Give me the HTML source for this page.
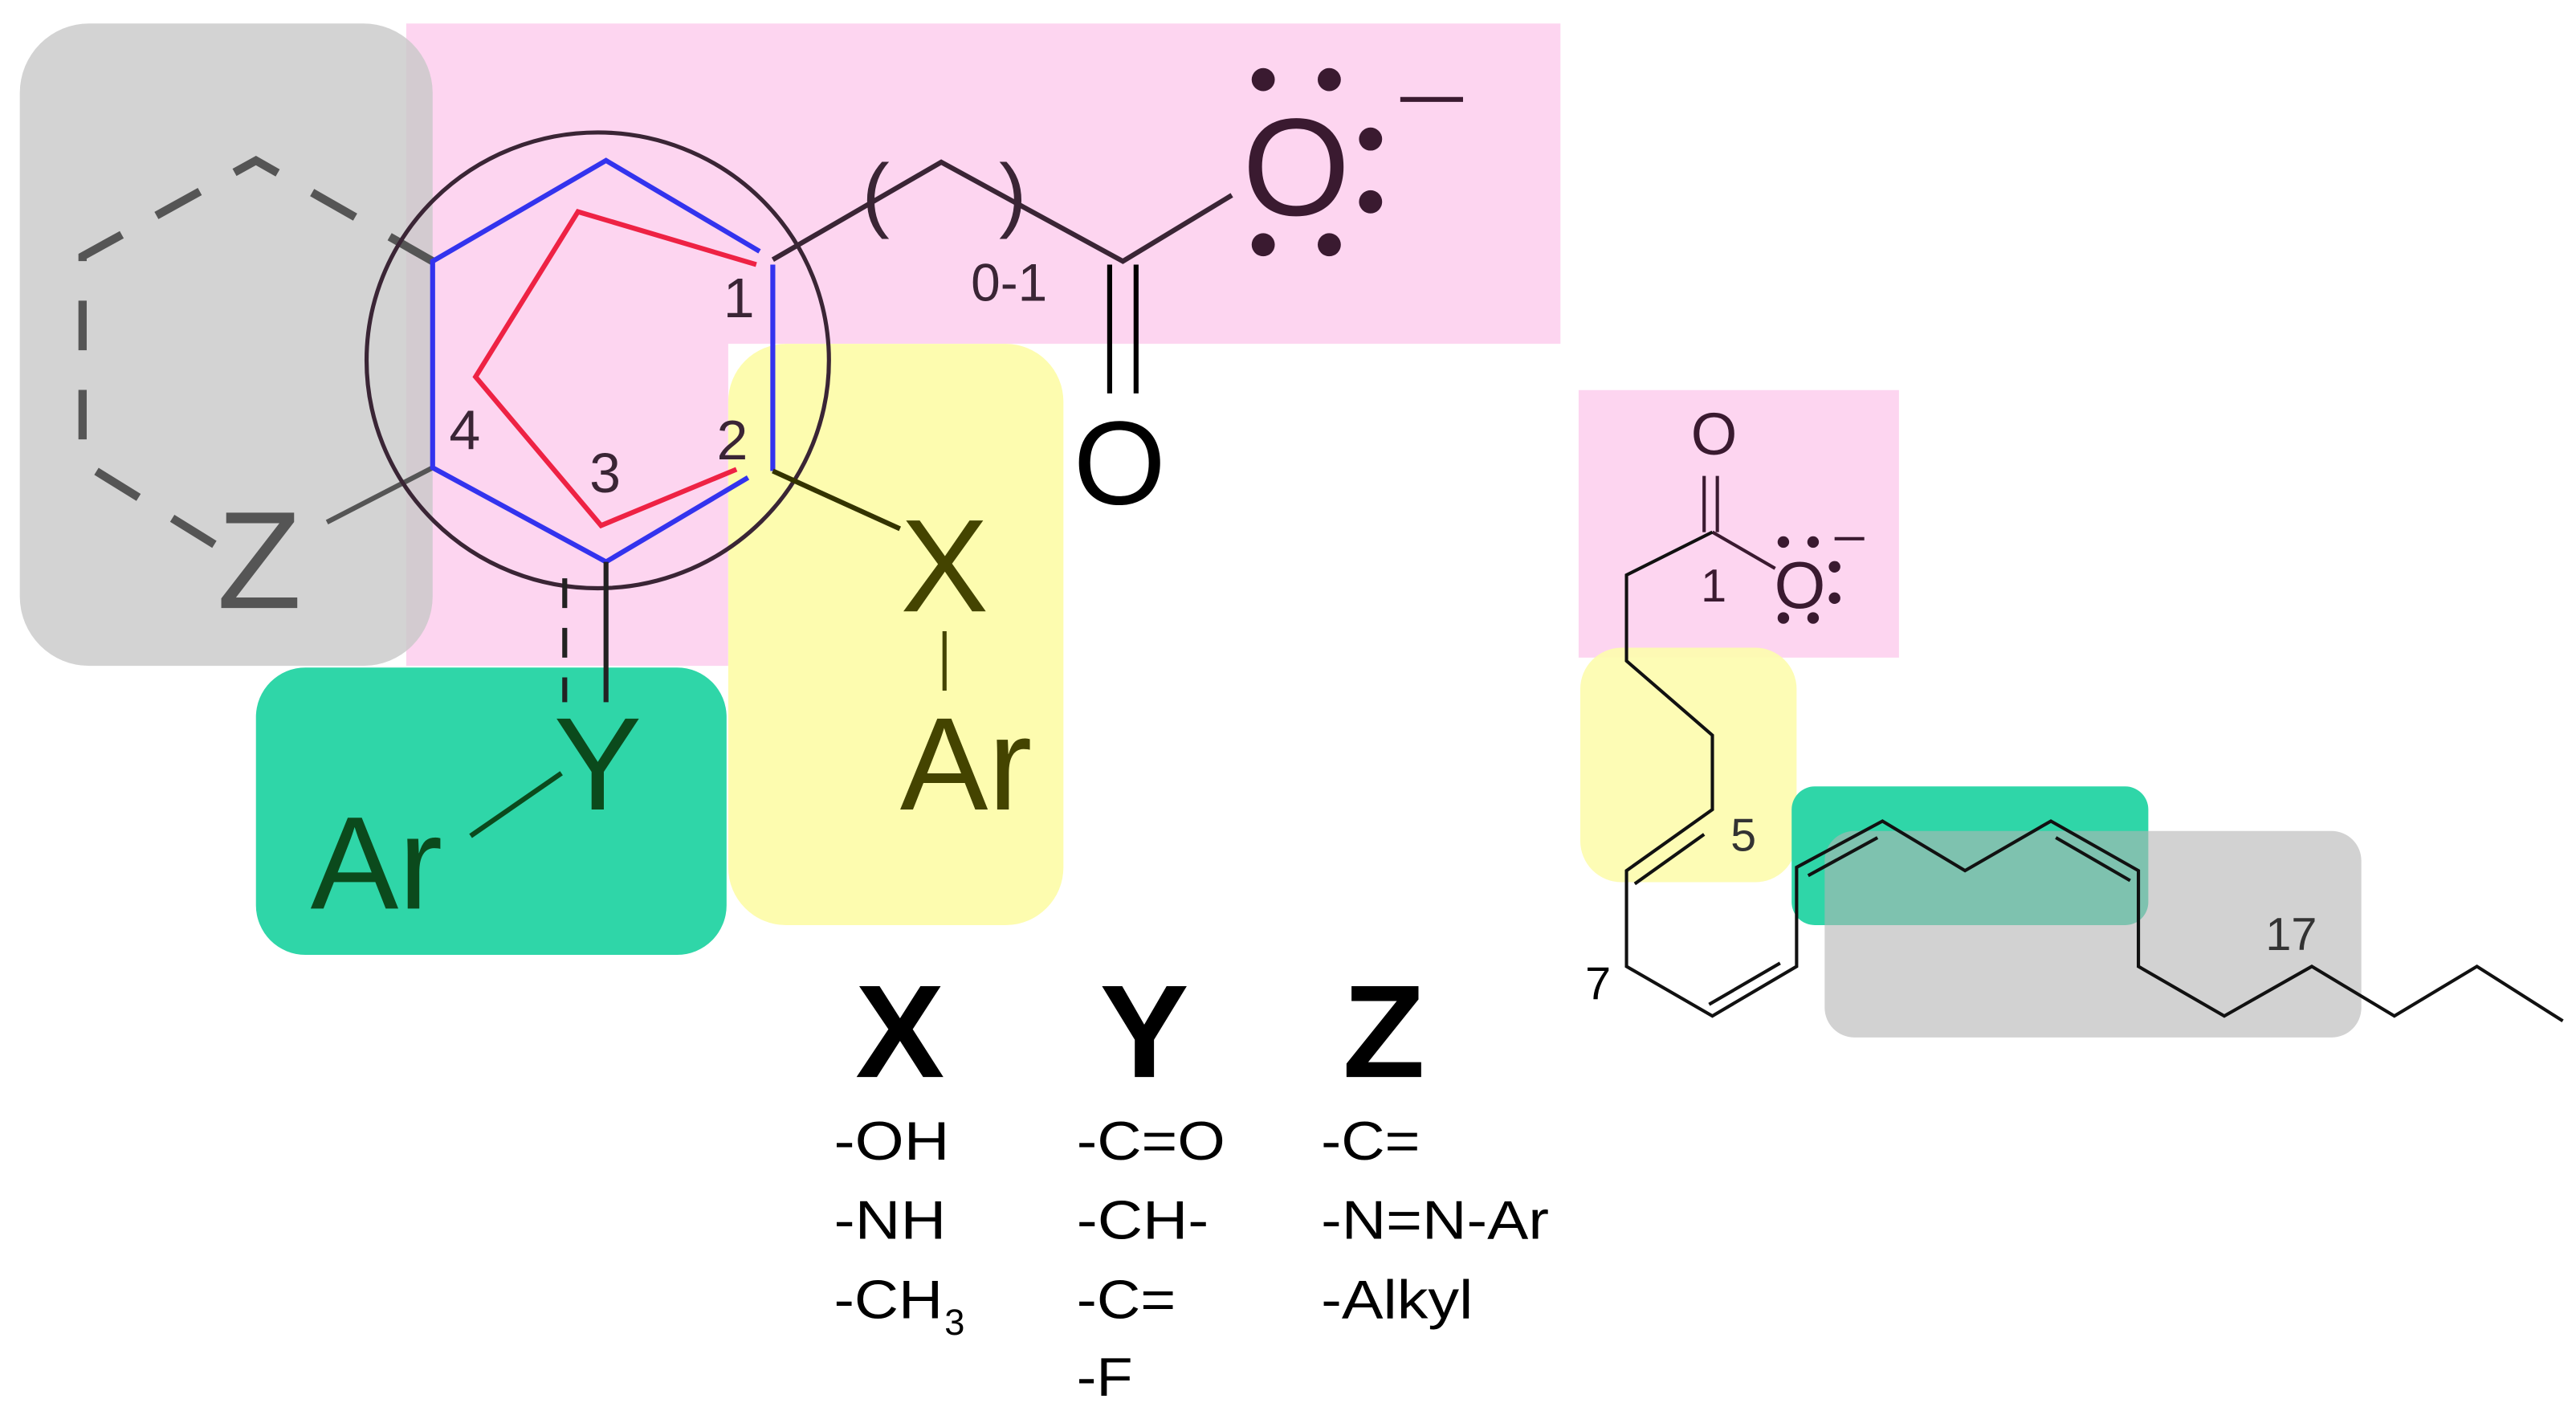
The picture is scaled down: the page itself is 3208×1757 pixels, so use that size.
<!DOCTYPE html>
<html><head><meta charset="utf-8"><style>
html,body{margin:0;padding:0;background:#fff;}
svg{display:block;}
text{font-family:"Liberation Sans",sans-serif;}
</style></head><body>
<svg width="3208" height="1757" viewBox="0 0 1560 854" xmlns="http://www.w3.org/2000/svg">
<!-- highlight boxes -->
<path d="M246 14 H945 V208 H441 V403 H246 Z" fill="#fdd5f0"/>
<rect x="441" y="208" width="203" height="352" rx="35" fill="#fdfcaf"/>
<rect x="155" y="404" width="285" height="174" rx="30" fill="#2fd6a8"/>
<rect x="12" y="14" width="250" height="389" rx="42" fill="#c8c8c8" fill-opacity="0.8"/>

<rect x="956" y="236" width="194" height="162" fill="#fdd5f0"/>
<rect x="957" y="392" width="131" height="142" rx="25" fill="#fdfcaf" fill-opacity="0.92"/>
<rect x="1085" y="476" width="216" height="84" rx="14" fill="#2fd6a8"/>
<rect x="1105" y="503" width="325" height="125" rx="18" fill="#b4b4b4" fill-opacity="0.6"/>

<!-- dashed hexagon -->
<path d="M262 158 L155 97 L50 155 L50 280 L155 345" fill="none" stroke="#555" stroke-width="5" stroke-dasharray="30 24"/>
<line x1="198" y1="316" x2="262" y2="283" stroke="#555" stroke-width="3"/>
<text x="157" y="368" font-size="84" fill="#555" text-anchor="middle">Z</text>

<!-- circle -->
<ellipse cx="362" cy="218" rx="140" ry="138" fill="none" stroke="#3a2535" stroke-width="2.5"/>

<!-- blue hexagon -->
<path d="M460 152 L367 97 L262 158 L262 283 L367 340 L453 289" fill="none" stroke="#3333ee" stroke-width="3"/>
<line x1="468" y1="160" x2="468" y2="285" stroke="#3333ee" stroke-width="3"/>
<!-- red pentagon -->
<path d="M458 160 L350 128 L288 228 L364 318 L446 284" fill="none" stroke="#ee2244" stroke-width="3"/>

<!-- labels ring -->
<g font-size="34" fill="#3a2535">
<text x="438" y="192">1</text>
<text x="434" y="278">2</text>
<text x="357" y="298">3</text>
<text x="272" y="272">4</text>
</g>

<!-- chain to carboxylate -->
<path d="M468 157 L570 98 L680 158 L746 118" fill="none" stroke="#3a2535" stroke-width="3"/>
<text x="522" y="134" font-size="50" fill="#3a2535">(</text>
<text x="605" y="134" font-size="50" fill="#3a2535">)</text>
<text x="588" y="182" font-size="32" fill="#3a2535">0-1</text>
<line x1="672" y1="160" x2="672" y2="238" stroke="#000" stroke-width="3"/>
<line x1="688" y1="160" x2="688" y2="238" stroke="#000" stroke-width="3"/>
<text x="678" y="305" font-size="72" fill="#000" text-anchor="middle">O</text>
<text x="785" y="130" font-size="84" fill="#3a1a30" text-anchor="middle">O</text>
<g fill="#3a1a30">
<circle cx="765" cy="48" r="7"/><circle cx="805" cy="48" r="7"/>
<circle cx="830" cy="84" r="7"/><circle cx="830" cy="122" r="7"/>
<circle cx="765" cy="148" r="7"/><circle cx="805" cy="148" r="7"/>
</g>
<line x1="848" y1="60" x2="886" y2="60" stroke="#3a1a30" stroke-width="3"/>

<!-- X -->
<line x1="468" y1="285" x2="545" y2="320" stroke="#333300" stroke-width="3"/>
<text x="572" y="370" font-size="80" fill="#444400" text-anchor="middle">X</text>
<line x1="572" y1="382" x2="572" y2="418" stroke="#444400" stroke-width="2.5"/>
<text x="585" y="490" font-size="80" fill="#444400" text-anchor="middle">Ar</text>

<!-- Y -->
<line x1="367" y1="340" x2="367" y2="425" stroke="#222" stroke-width="3"/>
<line x1="342" y1="350" x2="342" y2="425" stroke="#222" stroke-width="3" stroke-dasharray="18 12"/>
<text x="362" y="490" font-size="80" fill="#0b4a1c" text-anchor="middle">Y</text>
<line x1="285" y1="506" x2="340" y2="468" stroke="#0b4a1c" stroke-width="3"/>
<text x="228" y="550" font-size="80" fill="#0b4a1c" text-anchor="middle">Ar</text>

<!-- table -->
<g font-weight="bold" font-size="80" fill="#000" text-anchor="middle">
<text x="545" y="652" textLength="54" lengthAdjust="spacingAndGlyphs">X</text>
<text x="693" y="652" textLength="54" lengthAdjust="spacingAndGlyphs">Y</text>
<text x="838" y="652" textLength="50" lengthAdjust="spacingAndGlyphs">Z</text>
</g>
<g font-size="33" fill="#000">
<text x="505" y="702" textLength="70" lengthAdjust="spacingAndGlyphs">-OH</text>
<text x="505" y="750" textLength="68" lengthAdjust="spacingAndGlyphs">-NH</text>
<text x="505" y="798" textLength="66" lengthAdjust="spacingAndGlyphs">-CH</text>
<text x="572" y="808" font-size="22">3</text>
<text x="652" y="702" textLength="90" lengthAdjust="spacingAndGlyphs">-C=O</text>
<text x="652" y="750" textLength="80" lengthAdjust="spacingAndGlyphs">-CH-</text>
<text x="652" y="798" textLength="60" lengthAdjust="spacingAndGlyphs">-C=</text>
<text x="652" y="845" textLength="34" lengthAdjust="spacingAndGlyphs">-F</text>
<text x="800" y="702" textLength="60" lengthAdjust="spacingAndGlyphs">-C=</text>
<text x="800" y="750" textLength="138" lengthAdjust="spacingAndGlyphs">-N=N-Ar</text>
<text x="800" y="798" textLength="92" lengthAdjust="spacingAndGlyphs">-Alkyl</text>
</g>

<!-- right fatty acid -->
<text x="1038" y="275" font-size="36" fill="#3a1a30" text-anchor="middle">O</text>
<line x1="1032" y1="288" x2="1032" y2="322" stroke="#3a1a30" stroke-width="2"/>
<line x1="1040" y1="288" x2="1040" y2="322" stroke="#3a1a30" stroke-width="2"/>
<line x1="1037" y1="322" x2="1075" y2="344" stroke="#3a1a30" stroke-width="2"/>
<text x="1090" y="368" font-size="40" fill="#3a1a30" text-anchor="middle">O</text>
<g fill="#3a1a30">
<circle cx="1080" cy="328" r="3.5"/><circle cx="1098" cy="328" r="3.5"/>
<circle cx="1111" cy="343" r="3.5"/><circle cx="1111" cy="362" r="3.5"/>
<circle cx="1080" cy="374" r="3.5"/><circle cx="1098" cy="374" r="3.5"/>
</g>
<line x1="1111" y1="326" x2="1129" y2="326" stroke="#3a1a30" stroke-width="2"/>
<text x="1030" y="364" font-size="28" fill="#3a1a30">1</text>
<path d="M1037 322 L985 348 L985 400 L1037 445 L1037 490 L985 527 L985 585 L1037 615 L1088 585 L1088 525 L1140 497 L1190 527 L1242 497 L1295 527 L1295 585 L1347 615 L1400 585 L1450 615 L1500 585 L1552 618" fill="none" stroke="#111" stroke-width="2"/>
<line x1="1032" y1="505" x2="990" y2="535" stroke="#111" stroke-width="2"/>
<line x1="1035" y1="608" x2="1078" y2="583" stroke="#111" stroke-width="2"/>
<line x1="1095" y1="530" x2="1137" y2="507" stroke="#111" stroke-width="2"/>
<line x1="1245" y1="507" x2="1290" y2="533" stroke="#111" stroke-width="2"/>
<text x="1048" y="515" font-size="28" fill="#333">5</text>
<text x="960" y="605" font-size="28" fill="#000">7</text>
<text x="1372" y="575" font-size="28" fill="#333">17</text>
</svg>
</body></html>
